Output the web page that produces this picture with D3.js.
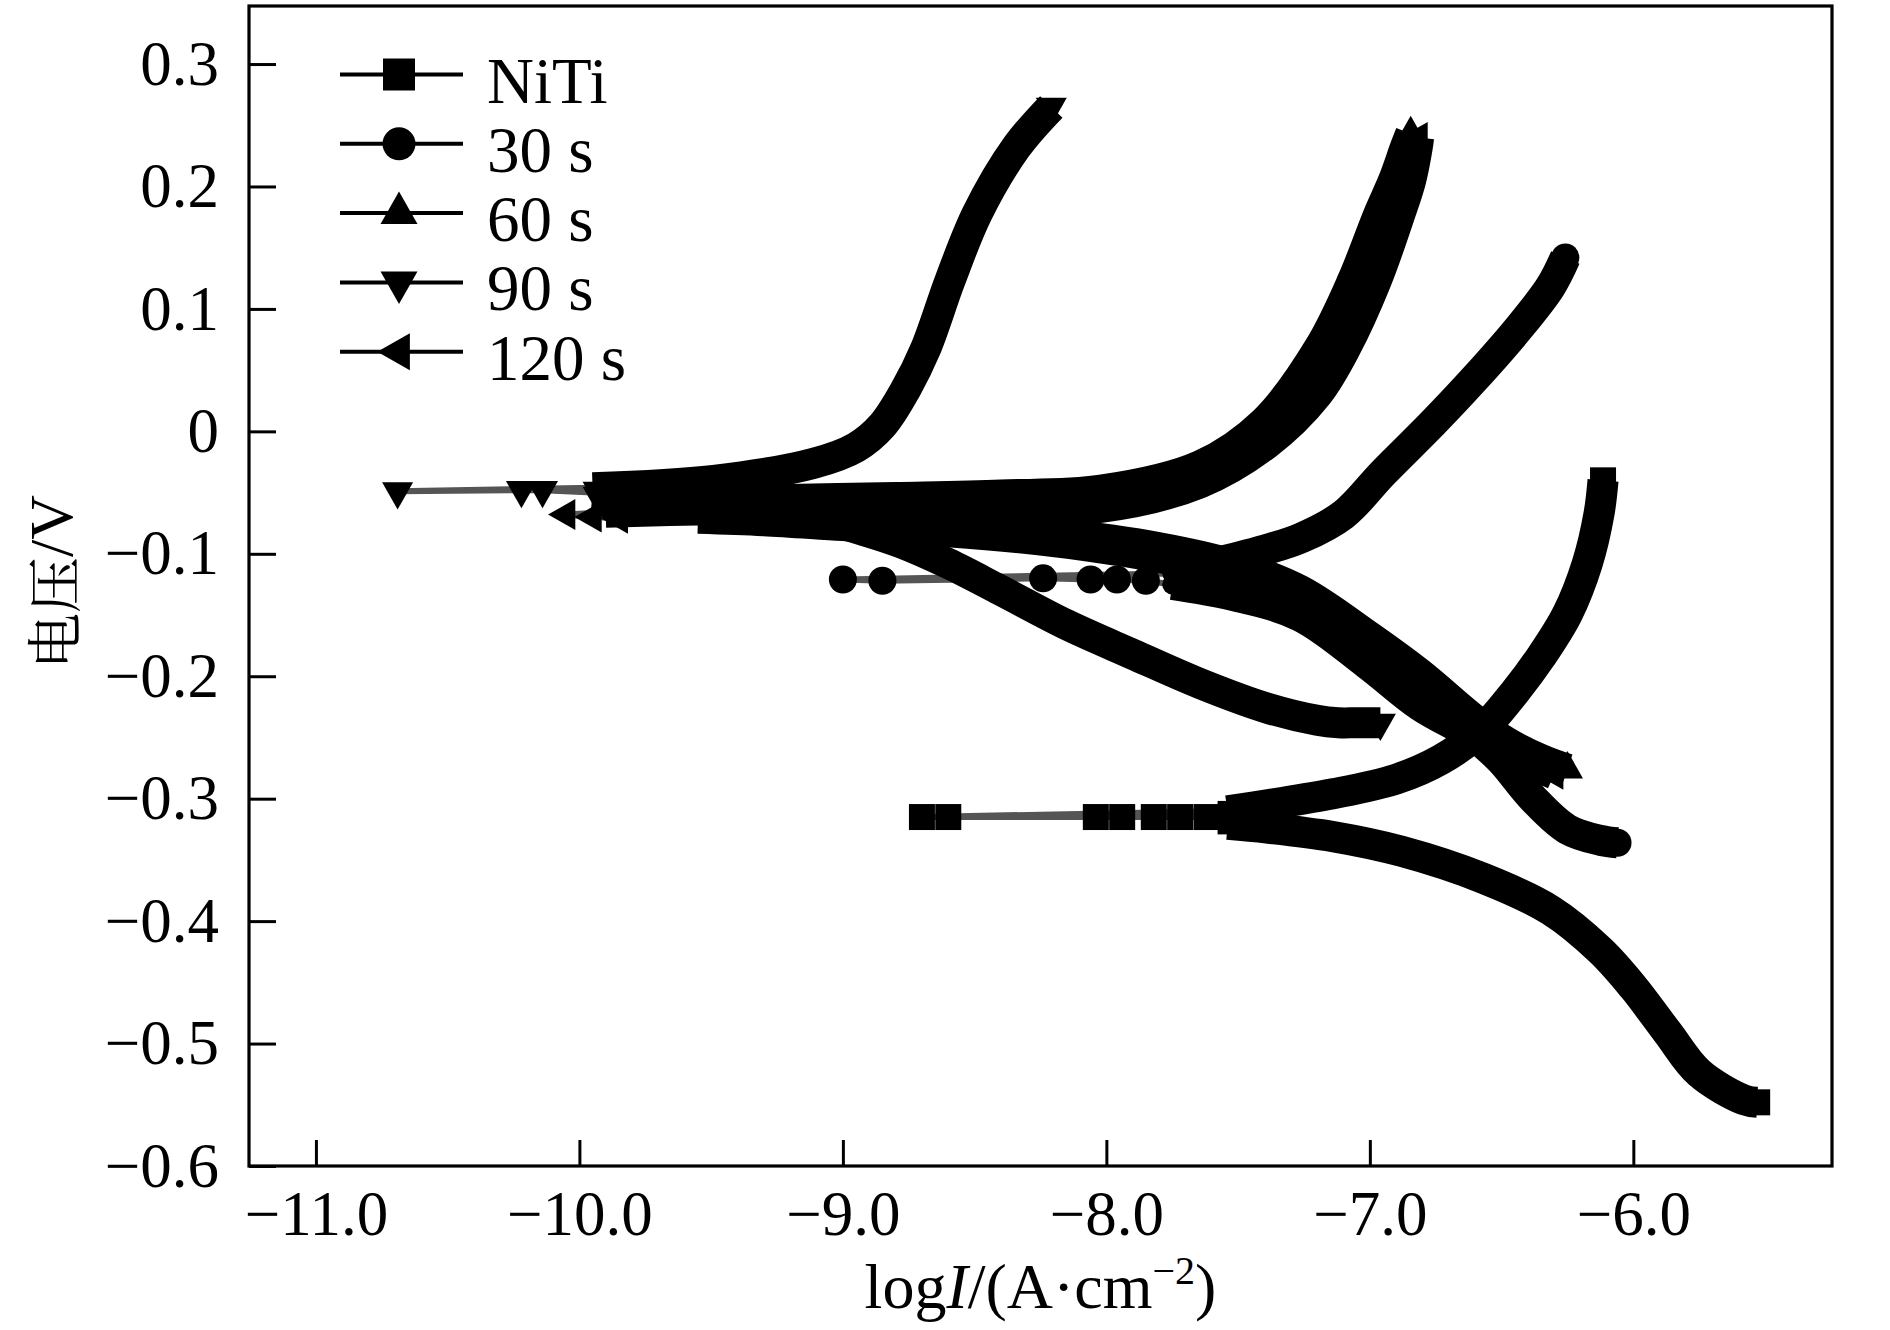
<!DOCTYPE html>
<html><head><meta charset="utf-8">
<script src="https://cdn.jsdelivr.net/npm/d3@7/dist/d3.min.js"></script>
<style>html,body{margin:0;padding:0;background:#fff;} svg{display:block;}</style>
</head><body><svg id="chart" width="1890" height="1330"></svg>
<script>
// ---------------- DATA ----------------
const seriesNames  = ["NiTi", "30 s", "60 s", "90 s", "120 s"];
const seriesShapes = ["square", "circle", "triangleUp", "triangleDown", "triangleLeft"];

const xTicks      = [-11, -10, -9, -8, -7, -6];
const xTickLabels = ["\u221211.0", "\u221210.0", "\u22129.0", "\u22128.0", "\u22127.0", "\u22126.0"];
const yTicks      = [0.3, 0.2, 0.1, 0, -0.1, -0.2, -0.3, -0.4, -0.5, -0.6];
const yTickLabels = ["0.3", "0.2", "0.1", "0", "\u22120.1", "\u22120.2", "\u22120.3", "\u22120.4", "\u22120.5", "\u22120.6"];

// [logI, E]  cathodic branch (from high current toward Ecorr), sparse points near Ecorr, anodic branch
const nitiCathodic = [[-5.53,-0.548],[-5.58,-0.546],[-5.75,-0.524],[-5.87,-0.491],[-6.0,-0.454],[-6.125,-0.424],[-6.315,-0.391],[-6.57,-0.365],[-6.88,-0.343],[-7.14,-0.331],[-7.39,-0.324],[-7.54,-0.321]];
const nitiEcorr    = [[-7.62,-0.315],[-7.72,-0.315],[-7.82,-0.315],[-7.94,-0.315],[-8.04,-0.315],[-8.6,-0.315],[-8.7,-0.315]];
const nitiAnodic   = [[-7.54,-0.31],[-7.39,-0.305],[-7.14,-0.296],[-6.9,-0.284],[-6.73,-0.268],[-6.58,-0.245],[-6.45,-0.213],[-6.35,-0.184],[-6.25,-0.149],[-6.175,-0.108],[-6.13,-0.067],[-6.115,-0.04]];

const s30Cathodic = [[-6.06,-0.336],[-6.125,-0.334],[-6.25,-0.325],[-6.38,-0.3],[-6.505,-0.268],[-6.6,-0.25],[-6.81,-0.224],[-7.01,-0.19],[-7.264,-0.151],[-7.52,-0.134],[-7.75,-0.125]];
const s30Ecorr    = [[-7.85,-0.122],[-7.96,-0.121],[-8.06,-0.121],[-8.24,-0.12],[-8.85,-0.122],[-9.0,-0.121]];
const s30Anodic   = [[-7.75,-0.116],[-7.6,-0.108],[-7.4,-0.097],[-7.26,-0.087],[-7.1,-0.068],[-6.95,-0.034],[-6.76,0.007],[-6.607,0.042],[-6.44,0.083],[-6.315,0.118],[-6.258,0.142]];

const s60Cathodic = [[-6.25,-0.276],[-6.35,-0.268],[-6.48,-0.254],[-6.6,-0.236],[-6.81,-0.198],[-7.0,-0.168],[-7.264,-0.13],[-7.5,-0.11],[-7.8,-0.095],[-8.2,-0.083],[-8.6,-0.076],[-9.0,-0.07],[-9.4,-0.066],[-9.6,-0.063]];
const s60Ecorr    = [[-9.66,-0.061],[-9.78,-0.058],[-9.7,-0.056]];
const s60Anodic   = [[-9.6,-0.057],[-9.3,-0.056],[-8.8,-0.054],[-8.4,-0.052],[-8.02,-0.048],[-7.644,-0.028],[-7.4,0.008],[-7.19,0.069],[-7.065,0.1235],[-6.965,0.178],[-6.91,0.205],[-6.865,0.232],[-6.845,0.243]];

const s90Cathodic = [[-6.96,-0.238],[-7.05,-0.238],[-7.12,-0.238],[-7.2,-0.236],[-7.39,-0.226],[-7.644,-0.206],[-7.9,-0.182],[-8.15,-0.158],[-8.4,-0.13],[-8.6,-0.108],[-8.78,-0.091],[-8.92,-0.081],[-9.11,-0.07],[-9.36,-0.062],[-9.7,-0.055],[-9.95,-0.05]];
const s90Ecorr    = [[-10.14,-0.048],[-10.22,-0.048],[-10.69,-0.049]];
const s90Anodic   = [[-9.95,-0.046],[-9.49,-0.04],[-9.11,-0.026],[-8.95,-0.013],[-8.85,0.005],[-8.76,0.035],[-8.687,0.067],[-8.592,0.124],[-8.49,0.178],[-8.342,0.232],[-8.209,0.265]];

const s120Cathodic = [[-6.3,-0.28],[-6.4,-0.27],[-6.5,-0.258],[-6.6,-0.242],[-6.81,-0.21],[-7.0,-0.179],[-7.264,-0.14],[-7.5,-0.118],[-7.8,-0.103],[-8.2,-0.09],[-8.6,-0.082],[-9.0,-0.077],[-9.3,-0.073],[-9.55,-0.071]];
const s120Ecorr    = [[-9.85,-0.071],[-9.95,-0.07],[-10.05,-0.068]];
const s120Anodic   = [[-9.9,-0.066],[-9.5,-0.064],[-9.0,-0.063],[-8.5,-0.063],[-8.02,-0.062],[-7.644,-0.042],[-7.39,-0.01],[-7.2,0.03],[-7.09,0.069],[-6.975,0.1235],[-6.885,0.178],[-6.845,0.205],[-6.82,0.232],[-6.815,0.24]];

const yTitleCJK = "电压";
const yTitleUnit = "/V";

// ---------------- BUILD ----------------
const series = [
  {cath: nitiCathodic, ecorr: nitiEcorr, anod: nitiAnodic},
  {cath: s30Cathodic,  ecorr: s30Ecorr,  anod: s30Anodic},
  {cath: s60Cathodic,  ecorr: s60Ecorr,  anod: s60Anodic},
  {cath: s90Cathodic,  ecorr: s90Ecorr,  anod: s90Anodic},
  {cath: s120Cathodic, ecorr: s120Ecorr, anod: s120Anodic}
].map((d, i) => ({...d, name: seriesNames[i], shape: seriesShapes[i]}));

const plot = {left: 249, right: 1832, top: 6, bottom: 1166};
const x = d3.scaleLinear().domain([-11.254, -5.246]).range([plot.left, plot.right]);
const y = d3.scaleLinear().domain([-0.6, 0.3474]).range([plot.bottom, plot.top]);

const svg = d3.select("#chart");
const serif = "'Liberation Serif','Times New Roman',Times,serif";

function symbolPath(shape, s) {
  const h = s * 0.88;
  switch (shape) {
    case "square": return `M${-s/2},${-s/2}h${s}v${s}h${-s}Z`;
    case "circle": { const r = s / 2; return `M${r},0A${r},${r} 0 1,1 ${-r},0A${r},${r} 0 1,1 ${r},0Z`; }
    case "triangleUp": return `M0,${-2*h/3}L${s/2},${h/3}L${-s/2},${h/3}Z`;
    case "triangleDown": return `M0,${2*h/3}L${s/2},${-h/3}L${-s/2},${-h/3}Z`;
    case "triangleLeft": return `M${-2*h/3},0L${h/3},${-s/2}L${h/3},${s/2}Z`;
  }
}
const fullSize = shape => shape === "square" ? 26 : (shape === "circle" ? 28 : 31);

const gData = svg.append("g");
const bandLine = d3.line().x(d => x(d[0])).y(d => y(d[1])).curve(d3.curveCatmullRom.alpha(0.5));
const thinLine = d3.line().x(d => x(d[0])).y(d => y(d[1]));

// thin connecting lines
series.forEach(s => {
  gData.append("path")
    .attr("d", thinLine([...s.cath, ...s.ecorr, ...s.anod]))
    .attr("fill", "none").attr("stroke", "#555").attr("stroke-width", 6);
});
// thick bands (dense data)
series.forEach(s => {
  [s.cath, s.anod].forEach(branch => {
    gData.append("path")
      .attr("d", bandLine(branch))
      .attr("fill", "none").attr("stroke", "#000").attr("stroke-width", 31)
      .attr("stroke-linejoin", "round").attr("stroke-linecap", "butt");
  });
});
// markers: dense-branch points small (hidden in band), Ecorr and branch-end points full size
series.forEach(s => {
  const pts = [];
  s.cath.forEach((d, i) => pts.push({d, big: i === 0}));
  s.ecorr.forEach(d => pts.push({d, big: true}));
  s.anod.forEach((d, i) => pts.push({d, big: i === s.anod.length - 1}));
  gData.selectAll(null).data(pts).enter().append("path")
    .attr("transform", p => `translate(${x(p.d[0])},${y(p.d[1])})`)
    .attr("d", p => symbolPath(s.shape, p.big ? fullSize(s.shape) : 20))
    .attr("fill", "#000");
});

// ---------------- AXES ----------------
const fmtX = d => xTickLabels[xTicks.indexOf(d)];
const fmtY = d => yTickLabels[yTicks.findIndex(v => Math.abs(v - d) < 1e-9)];

const gx = svg.append("g").attr("transform", `translate(0,${plot.bottom})`)
  .call(d3.axisBottom(x).tickValues(xTicks).tickFormat(fmtX).tickSize(-26).tickSizeOuter(0).tickPadding(24));
const gy = svg.append("g").attr("transform", `translate(${plot.left},0)`)
  .call(d3.axisLeft(y).tickValues(yTicks).tickFormat(fmtY).tickSize(-27).tickSizeOuter(0).tickPadding(30));
[gx, gy].forEach(g => {
  g.select(".domain").remove();
  g.selectAll(".tick line").attr("stroke", "#000").attr("stroke-width", 3);
  g.selectAll(".tick text").attr("fill", "#000").style("font-family", serif).style("font-size", "63px");
});

// frame
svg.append("rect")
  .attr("x", plot.left).attr("y", plot.top)
  .attr("width", plot.right - plot.left).attr("height", plot.bottom - plot.top)
  .attr("fill", "none").attr("stroke", "#000").attr("stroke-width", 3.2);

// ---------------- LEGEND ----------------
const legend = svg.append("g");
series.forEach((s, i) => {
  const ly = 74.5 + i * 69.3;
  legend.append("line").attr("x1", 340).attr("x2", 463).attr("y1", ly).attr("y2", ly)
    .attr("stroke", "#000").attr("stroke-width", 4);
  legend.append("path").attr("transform", `translate(399,${ly})`)
    .attr("d", symbolPath(s.shape, s.shape === "square" ? 32 : (s.shape === "circle" ? 33 : 37)))
    .attr("fill", "#000");
  legend.append("text").attr("x", 487).attr("y", ly + 28)
    .style("font-family", serif).style("font-size", "65px").attr("fill", "#000")
    .text(s.name);
});

// ---------------- TITLES ----------------
const xt = svg.append("text").attr("x", (plot.left + plot.right) / 2).attr("y", 1308)
  .attr("text-anchor", "middle").style("font-family", serif).style("font-size", "64px").attr("fill", "#000");
xt.append("tspan").text("log");
xt.append("tspan").style("font-style", "italic").text("I");
xt.append("tspan").text("/(A\u00B7cm");
xt.append("tspan").attr("dy", -24).style("font-size", "40px").text("\u22122");
xt.append("tspan").attr("dy", 24).text(")");

const yt = svg.append("text")
  .attr("transform", "translate(51,582) rotate(-90)")
  .attr("text-anchor", "middle").attr("dominant-baseline", "central").attr("fill", "#000");
yt.append("tspan").style("font-family", "'Noto Serif CJK SC','Noto Sans CJK SC',sans-serif").style("font-size", "56px").text(yTitleCJK);
yt.append("tspan").style("font-family", serif).style("font-size", "62px").text(yTitleUnit);
</script>
</body></html>
